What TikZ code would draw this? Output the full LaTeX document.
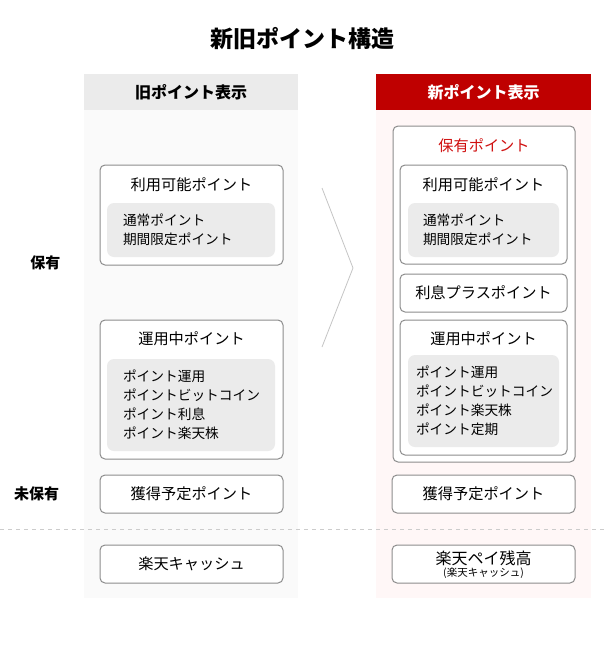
\documentclass[tikz,border=0pt]{standalone}
\usepackage{fontspec}
\setmainfont{Noto Sans CJK JP}
\usepackage{tikz}
\usetikzlibrary{positioning}
\definecolor{rakutenred}{RGB}{191,0,0}
\definecolor{holdred}{RGB}{208,16,16}
\definecolor{framegray}{RGB}{140,140,140}
\definecolor{innergray}{RGB}{235,235,235}
\definecolor{oldbg}{RGB}{250,250,250}
\definecolor{newbg}{RGB}{255,247,247}
\definecolor{chevgray}{RGB}{196,196,196}
\definecolor{dashgray}{RGB}{204,204,204}

\begin{document}
\begin{tikzpicture}[x=1pt, y=-1pt,
  colbg/.style={rectangle, inner sep=0pt, minimum width=214pt, minimum height=488pt},
  hdr/.style={rectangle, inner sep=0pt, minimum width=214pt, minimum height=36pt,
              font=\fontsize{16}{18}\selectfont\bfseries},
  pbox/.style={rectangle, rounded corners=5pt, draw=framegray, line width=1pt,
               fill=white, inner sep=0pt},
  gbox/.style={rectangle, rounded corners=7pt, fill=innergray, align=left,
               font=\fontsize{13.7}{19}\selectfont, inner ysep=0pt},
  btxt/.style={inner sep=0pt, font=\fontsize{15.2}{17}\selectfont},
  side/.style={inner sep=0pt, font=\fontsize{15}{17}\selectfont\bfseries}
]
\useasboundingbox (0,0) rectangle (607,659);

\node[inner sep=0pt, font=\fontsize{23}{25}\selectfont\bfseries] (title) at (302.5,39) {新旧ポイント構造};

% columns
\node[colbg, fill=oldbg] (oldcol) at (191,354) {};
\node[colbg, fill=newbg, minimum width=215pt] (newcol) at (483.5,354) {};
\node[hdr, fill=innergray] (oldhead) at (191,92) {旧ポイント表示};
\node[hdr, fill=rakutenred, text=white, minimum width=215pt] (newhead) at (483.5,92) {新ポイント表示};

\draw[dashgray, line width=0.8pt, dash pattern=on 4pt off 4pt] (0,529) -- (607,529);

\node[side] (hold) at (45.5,263) {保有};
\node[side] (nohold) at (36.5,494) {未保有};

% old side
\node[pbox, minimum width=183pt, minimum height=100pt] (availL) at (191.5,215) {};
\node[btxt] (availLt) at (191.5,185) {利用可能ポイント};
\node[gbox, text width=136pt, inner xsep=16pt, minimum height=54pt] (availLg) at (191,230)
  {通常ポイント\\期間限定ポイント};

\node[pbox, minimum width=183pt, minimum height=139pt] (investL) at (191.5,389.5) {};
\node[btxt] (investLt) at (191.5,339) {運用中ポイント};
\node[gbox, text width=136pt, inner xsep=16pt, minimum height=92pt] (investLg) at (191,405)
  {ポイント運用\\ポイントビットコイン\\ポイント利息\\ポイント楽天株};

\node[pbox, minimum width=183pt, minimum height=38pt] (earnL) at (191.5,494) {};
\node[btxt] (earnLt) at (191.5,494) {獲得予定ポイント};
\node[pbox, minimum width=183pt, minimum height=38pt] (cashL) at (191.5,564) {};
\node[btxt] (cashLt) at (191.5,564) {楽天キャッシュ};

% chevron
\coordinate (chvtop) at (322,188);
\coordinate (chvtip) at (353,268);
\coordinate (chvbot) at (322,347);
\draw[chevgray, line width=0.8pt] (chvtop) -- (chvtip) -- (chvbot);

% new side
\node[pbox, minimum width=182pt, minimum height=336pt] (holdR) at (484,294) {};
\node[btxt, text=holdred] (holdRt) at (484,146) {保有ポイント};

\node[pbox, minimum width=167pt, minimum height=99pt] (availR) at (483.5,214.5) {};
\node[btxt] (availRt) at (483.5,185) {利用可能ポイント};
\node[gbox, text width=135pt, inner xsep=8pt, minimum height=54pt] (availRg) at (483.5,230)
  {\hspace*{7pt}通常ポイント\\\hspace*{7pt}期間限定ポイント};

\node[pbox, minimum width=167pt, minimum height=38pt] (plusR) at (483.5,293) {};
\node[btxt] (plusRt) at (483.5,293) {利息プラスポイント};

\node[pbox, minimum width=167pt, minimum height=135pt] (investR) at (483.5,387.5) {};
\node[btxt] (investRt) at (483.5,339) {運用中ポイント};
\node[gbox, text width=135pt, inner xsep=8pt, minimum height=92pt] (investRg) at (483.5,401)
  {ポイント運用\\ポイントビットコイン\\ポイント楽天株\\ポイント定期};

\node[pbox, minimum width=183pt, minimum height=38pt] (earnR) at (483.5,494) {};
\node[btxt] (earnRt) at (483.5,494) {獲得予定ポイント};
\node[pbox, minimum width=183pt, minimum height=38pt] (payR) at (483.5,564) {};
\node[btxt, font=\fontsize{16}{18}\selectfont] (payRt) at (483.5,558) {楽天ペイ残高};
\node[inner sep=0pt, font=\fontsize{10.5}{12}\selectfont] (payRn) at (483.5,573.5) {(楽天キャッシュ)};
\end{tikzpicture}
\end{document}
